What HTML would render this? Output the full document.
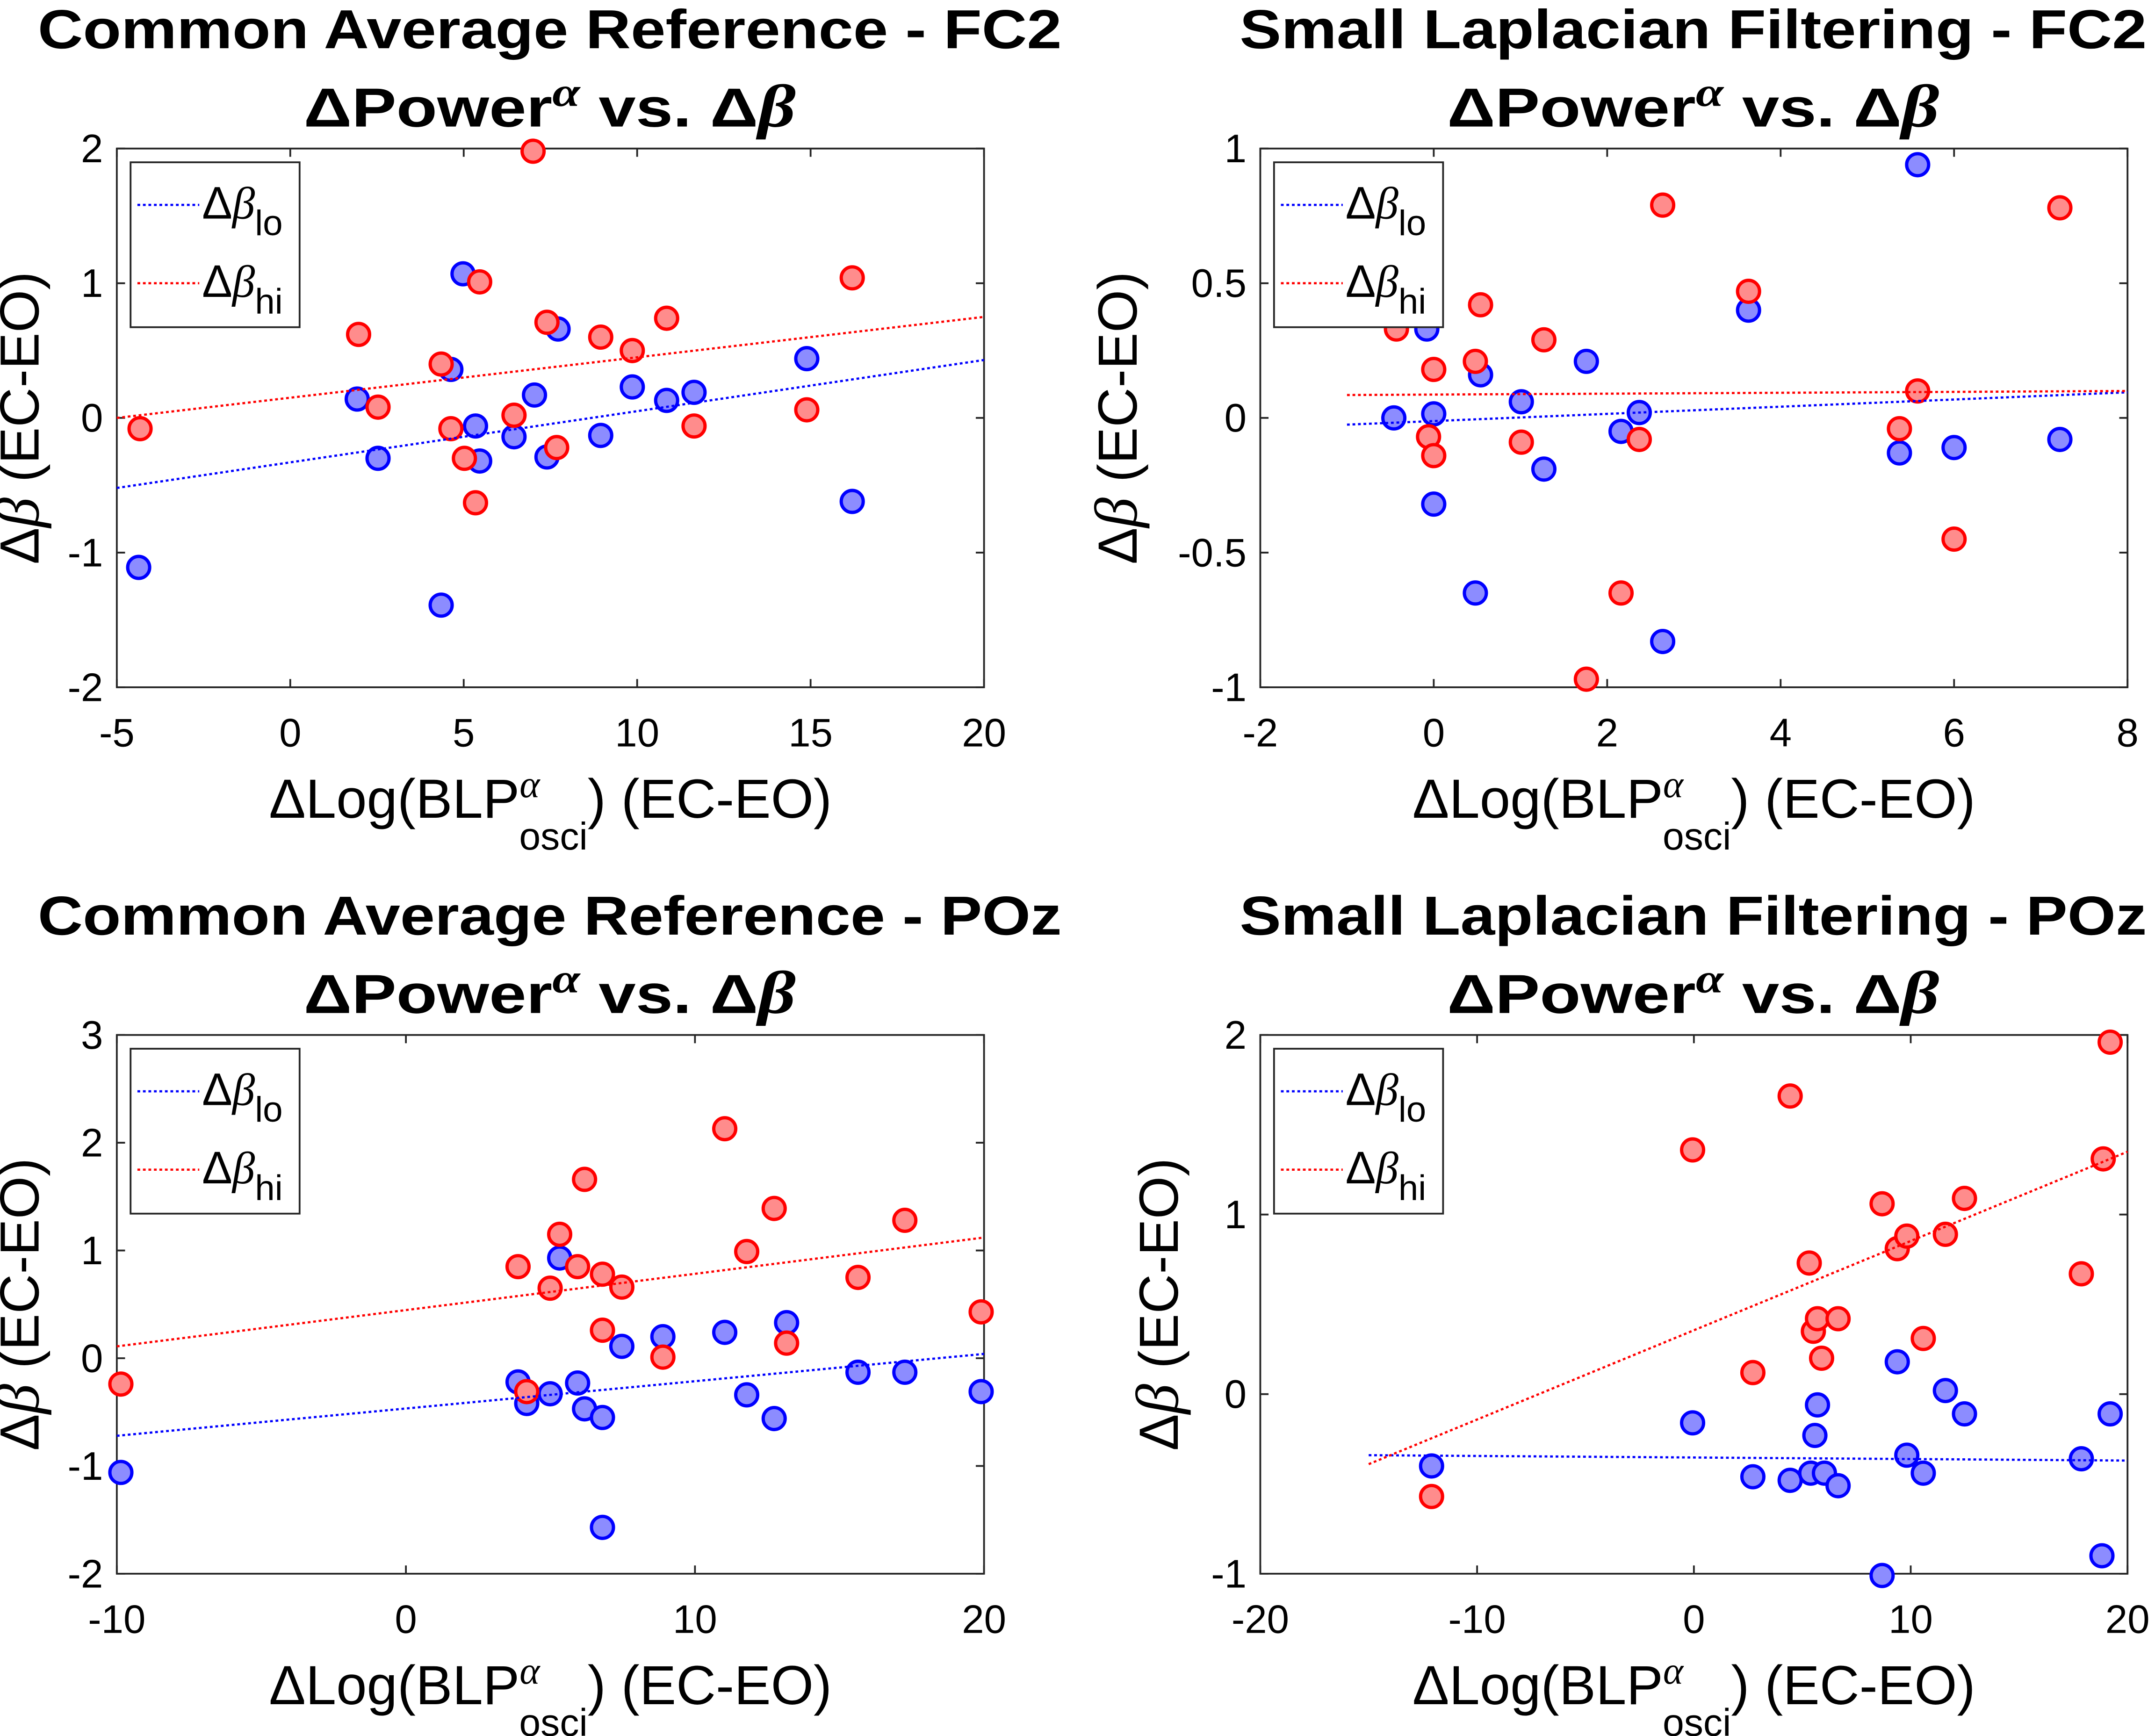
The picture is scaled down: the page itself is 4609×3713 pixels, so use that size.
<!DOCTYPE html>
<html><head><meta charset="utf-8">
<style>
html,body{margin:0;padding:0;background:#fff;}
svg{display:block;}
text{font-family:"Liberation Sans",sans-serif;fill:#000;}
</style></head>
<body>
<svg id="fig" width="4609" height="3713" viewBox="0 0 1568 1263" xmlns="http://www.w3.org/2000/svg"></svg>
<script>
// ---------- data ----------
const p1BlueX=[-4.37,4.35,1.93,2.53,4.63,4.98,5.34,5.46,6.45,7.04,7.40,7.72,8.95,9.86,10.85,11.64,14.89,16.20];
const p1BlueY=[-1.11,-1.39,0.14,-0.30,0.36,1.07,-0.06,-0.32,-0.14,0.17,-0.29,0.66,-0.13,0.23,0.13,0.19,0.44,-0.62];
const p1RedX=[-4.33,1.97,2.53,4.35,4.63,5.02,5.46,5.34,6.45,7.00,7.40,7.68,8.95,9.86,10.85,11.64,14.89,16.20];
const p1RedY=[-0.08,0.62,0.08,0.40,-0.08,-0.30,1.01,-0.63,0.02,1.98,0.71,-0.22,0.60,0.50,0.74,-0.06,0.06,1.04];
const p1Fit=[[-5,-0.52,20,0.43],[-5,0.0,20,0.75]];

const p2BlueX=[-0.46,-0.08,0.0,0.0,0.48,0.54,1.01,1.27,1.76,2.16,2.37,2.64,3.63,5.37,5.58,6.00,7.22];
const p2BlueY=[0.0,0.33,0.015,-0.32,-0.65,0.16,0.06,-0.19,0.21,-0.05,0.02,-0.83,0.40,-0.13,0.94,-0.11,-0.08];
const p2RedX=[-0.43,-0.06,0.0,0.0,0.48,0.54,1.01,1.27,1.76,2.16,2.37,2.64,3.63,5.37,5.58,6.00,7.22];
const p2RedY=[0.33,-0.07,0.18,-0.14,0.21,0.42,-0.09,0.29,-0.97,-0.65,-0.08,0.79,0.47,-0.04,0.10,-0.45,0.78];
const p2Fit=[[-1,-0.025,8,0.095],[-1,0.085,8,0.10]];

const p3BlueX=[-9.86,3.88,4.18,4.99,5.32,5.94,6.18,6.80,6.80,7.47,8.89,11.03,11.79,12.74,13.17,15.64,17.26,19.9];
const p3BlueY=[-1.06,-0.22,-0.42,-0.33,0.93,-0.23,-0.47,-0.55,-1.57,0.11,0.20,0.24,-0.34,-0.56,0.33,-0.13,-0.13,-0.31];
const p3RedX=[-9.86,3.88,4.18,4.99,5.32,5.94,6.18,6.80,6.80,7.47,8.89,11.03,11.79,12.74,13.17,15.64,17.26,19.9];
const p3RedY=[-0.24,0.85,-0.31,0.65,1.15,0.85,1.66,0.78,0.26,0.66,0.01,2.13,0.99,1.39,0.14,0.75,1.28,0.43];
const p3Fit=[[-10,-0.72,20,0.04],[-10,0.11,20,1.12]];

const p4BlueX=[-12.1,-0.06,2.72,4.44,5.39,5.58,5.70,6.02,6.65,8.68,9.38,9.82,10.58,11.60,12.48,17.87,18.82,19.2];
const p4BlueY=[-0.40,-0.16,-0.46,-0.48,-0.44,-0.23,-0.06,-0.44,-0.51,-1.01,0.18,-0.34,-0.44,0.02,-0.11,-0.36,-0.90,-0.11];
const p4RedX=[-12.1,-0.06,2.72,4.44,5.32,5.51,5.70,5.89,6.65,8.68,9.38,9.82,10.58,11.60,12.48,17.87,18.88,19.2];
const p4RedY=[-0.57,1.36,0.12,1.66,0.73,0.35,0.42,0.20,0.42,1.06,0.81,0.88,0.31,0.89,1.09,0.67,1.31,1.96];
const p4Fit=[[-15,-0.34,20,-0.37],[-15,-0.39,20,1.35]];

const p1XTicks=[-5,0,5,10,15,20], p1YTicks=[-2,-1,0,1,2];
const p2XTicks=[-2,0,2,4,6,8], p2YTicks=[-1,-0.5,0,0.5,1];
const p3XTicks=[-10,0,10,20], p3YTicks=[-2,-1,0,1,2,3];
const p4XTicks=[-20,-10,0,10,20], p4YTicks=[-1,0,1,2];

const titles=["Common Average Reference - FC2","Small Laplacian Filtering - FC2","Common Average Reference - POz","Small Laplacian Filtering - POz"];
const titleWidths=[745,660,745,660];

// ---------- drawing ----------
const NS="http://www.w3.org/2000/svg";
const svg=document.getElementById('fig');
function mk(tag,attrs,parent){const e=document.createElementNS(NS,tag);for(const k in attrs)e.setAttribute(k,attrs[k]);(parent||svg).appendChild(e);return e;}

function panel(idx,L,T,xmin,xmax,ymin,ymax,xt,yt,bx,by,rx,ry,fit,ylOff){
  const W=631,H=392;
  const g=mk('g',{});
  
  
  const sx=v=>L+(v-xmin)/(xmax-xmin)*W;
  const sy=v=>T+H-(v-ymin)/(ymax-ymin)*H;
  const cx=L+W/2+(idx%2?-82+33:0);
  const tcx= idx%2 ? 1232 : 400;
  const t1=mk('text',{x:tcx,y:T-73,'text-anchor':'middle','font-size':40,'font-weight':'bold',textLength:titleWidths[idx],lengthAdjust:'spacingAndGlyphs'},g);
  t1.textContent=titles[idx];
  
  
  const t2=mk('text',{x:tcx,y:T-16,'text-anchor':'middle','font-size':40,'font-weight':'bold',textLength:358,lengthAdjust:'spacingAndGlyphs'},g);
  t2.innerHTML='ΔPower<tspan dy="-15" font-size="30" font-style="italic" font-family="Liberation Serif">α</tspan><tspan dy="15"> vs. Δ</tspan><tspan font-style="italic" font-family="Liberation Serif" font-size="44">β</tspan>';
  
  
  const box=mk('rect',{x:L,y:T,width:W,height:H,fill:'#fff',stroke:'#262626','stroke-width':1.3},g);
  
  
  xt.forEach(v=>{
    const x=sx(v);
    mk('line',{x1:x,y1:T+H,x2:x,y2:T+H-6,stroke:'#262626','stroke-width':1.3},g);
    mk('line',{x1:x,y1:T,x2:x,y2:T+6,stroke:'#262626','stroke-width':1.3},g);
    const tl=mk('text',{x:x,y:T+H+43,'text-anchor':'middle','font-size':29},g);
    tl.textContent=String(v);
    
    
  });
  yt.forEach(v=>{
    const y=sy(v);
    mk('line',{x1:L,y1:y,x2:L+6,y2:y,stroke:'#262626','stroke-width':1.3},g);
    mk('line',{x1:L+W,y1:y,x2:L+W-6,y2:y,stroke:'#262626','stroke-width':1.3},g);
    const tl=mk('text',{x:L-10,y:y+10,'text-anchor':'end','font-size':29},g);
    tl.textContent=String(v);
    
    
  });
  const xl=mk('text',{x:L+W/2,y:T+H+95,'text-anchor':'middle','font-size':40},g);
  xl.innerHTML='ΔLog(BLP<tspan dy="-15" font-size="28" font-style="italic" font-family="Liberation Serif">α</tspan><tspan dx="-15" dy="38" font-size="28">osci</tspan><tspan dy="-23">) (EC-EO)</tspan>';
  
  
  const yl=mk('text',{x:0,y:0,'text-anchor':'middle','font-size':40,transform:`translate(${L-ylOff},${T+H/2}) rotate(-90)`},g);
  yl.innerHTML='Δ<tspan font-style="italic" font-family="Liberation Serif" font-size="44">β</tspan> (EC-EO)';
  
  
  [[bx,by,'#8c8cff','#0000ff','blue'],[rx,ry,'#ff8c8c','#ff0000','red']].forEach(([X,Y,f,s,nm])=>{
    X.forEach((v,i)=>{
      const c=mk('circle',{cx:sx(v),cy:sy(Y[i]),r:8,fill:f,stroke:s,'stroke-width':2.4},g);
      
      
    });
  });
  fit.forEach((f,i)=>{
    const ln=mk('line',{x1:sx(f[0]),y1:sy(f[1]),x2:sx(f[2]),y2:sy(f[3]),stroke:i?'#ff0000':'#0000ff','stroke-width':1.6,'stroke-dasharray':'2,2'},g);
    
    
  });
  const lg=mk('g',{},g);
  
  
  mk('rect',{x:L+10,y:T+10,width:123,height:120,fill:'#fff',stroke:'#262626','stroke-width':1.3},lg);
  [['lo','#0000ff',41],['hi','#ff0000',98]].forEach(([s,c,dy])=>{
    mk('line',{x1:L+15,y1:T+dy,x2:L+60,y2:T+dy,stroke:c,'stroke-width':1.6,'stroke-dasharray':'2,2'},lg);
    const tx=mk('text',{x:L+62,y:T+dy+10,'font-size':33},lg);
    tx.innerHTML='Δ<tspan font-style="italic" font-family="Liberation Serif">β</tspan><tspan dy="12" font-size="26">'+s+'</tspan>';
    
    
  });
}
panel(0,85,108,-5,20,-2,2,p1XTicks,p1YTicks,p1BlueX,p1BlueY,p1RedX,p1RedY,p1Fit,57);
panel(1,917,108,-2,8,-1,1,p2XTicks,p2YTicks,p2BlueX,p2BlueY,p2RedX,p2RedY,p2Fit,90);
panel(2,85,753,-10,20,-2,3,p3XTicks,p3YTicks,p3BlueX,p3BlueY,p3RedX,p3RedY,p3Fit,57);
panel(3,917,753,-20,20,-1,2,p4XTicks,p4YTicks,p4BlueX,p4BlueY,p4RedX,p4RedY,p4Fit,60);
</script>
</body></html>
